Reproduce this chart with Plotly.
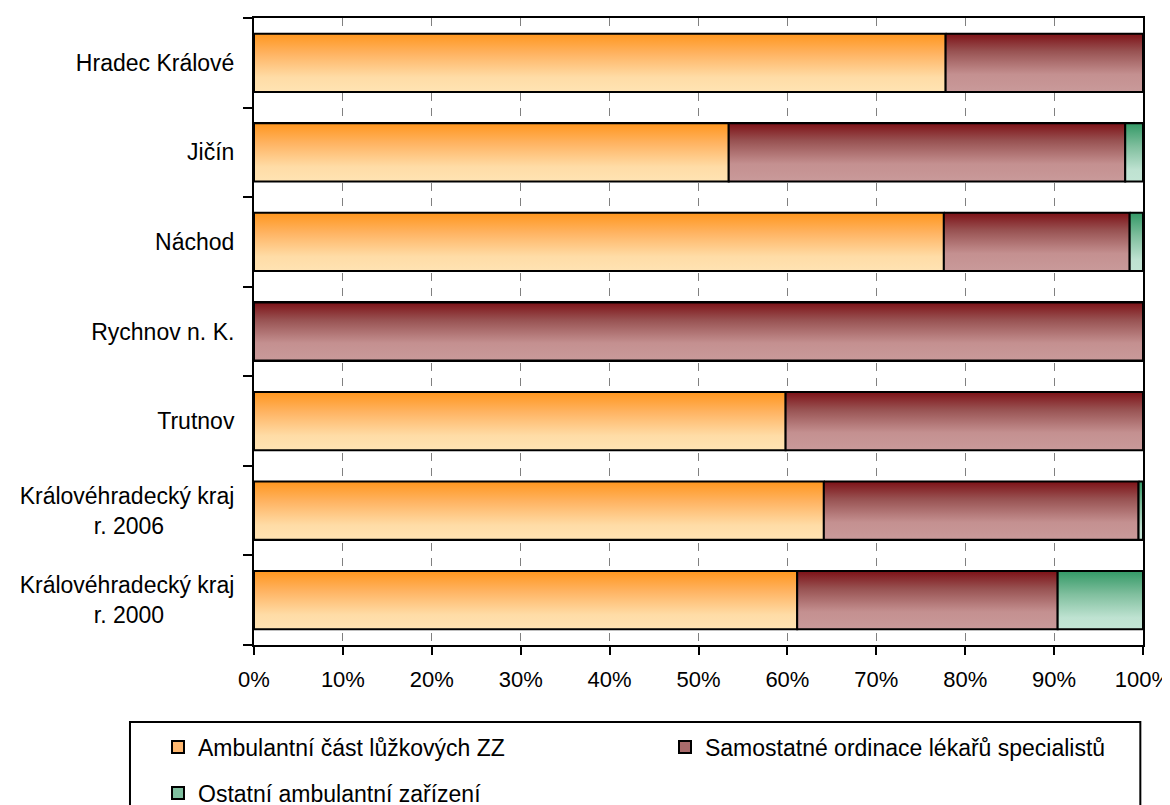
import plotly.graph_objects as go

categories = [
    "Hradec Králové",
    "Jičín",
    "Náchod",
    "Rychnov n. K.",
    "Trutnov",
    "Královéhradecký kraj<br>r. 2006" + "\u00a0" * 11,
    "Královéhradecký kraj<br>r. 2000" + "\u00a0" * 11,
]
ambulantni = [77.8, 53.4, 77.6, 0.0, 59.8, 64.1, 61.1]
samostatne = [22.2, 44.6, 20.9, 100.0, 40.2, 35.4, 29.3]
ostatni = [0.0, 2.0, 1.5, 0.0, 0.0, 0.5, 9.6]

series = [
    ("Ambulantní část lůžkových ZZ", ambulantni, "#FFB870",
     [[0, "#FF961E"], [0.35, "#FFB463"], [0.75, "#FFDCA6"], [1, "#FFE3B3"]]),
    ("Samostatné ordinace lékařů specialistů", samostatne, "#A86A6A",
     [[0, "#7D1116"], [0.3, "#985252"], [0.7, "#C49090"], [1, "#C99A9A"]]),
    ("Ostatní ambulantní zařízení", ostatni, "#7FBF9F",
     [[0, "#339966"], [0.4, "#80BF9E"], [0.8, "#BEE2D1"], [1, "#C3E5D5"]]),
]

FONT = "Liberation Sans Narrow, Arial Narrow, Liberation Sans, sans-serif"
FS = 23
BARW = 0.65
ypos = list(range(len(categories)))

fig = go.Figure()

# real stacked bars (data + legend)
for k, (name, vals, col, cs) in enumerate(series):
    fig.add_trace(go.Bar(
        y=ypos, x=vals, orientation="h", name=name, width=BARW,
        marker=dict(color=col, line=dict(color="black", width=2)),
        legend="legend" if k < 2 else "legend2",
        hoverinfo="x+name",
    ))

# gradient overlay for each segment, computed from the same data
left = [0.0] * len(categories)
for name, vals, col, cs in series:
    for i, v in enumerate(vals):
        c = left[i]
        if v > 0:
            y0, y1 = i - BARW / 2, i + BARW / 2
            fig.add_trace(go.Scatter(
                x=[c, c + v, c + v, c, c], y=[y0, y0, y1, y1, y0],
                mode="lines", fill="toself",
                line=dict(color="black", width=2),
                fillgradient=dict(type="vertical", colorscale=cs, start=y0, stop=y1),
                showlegend=False, hoverinfo="skip",
            ))
        left[i] = c + v

fig.update_layout(
    width=1170, height=805,
    margin=dict(l=246, r=35, t=10, b=168, autoexpand=False),
    paper_bgcolor="white", plot_bgcolor="white",
    barmode="stack",
    font=dict(family=FONT, size=FS, color="black"),
    showlegend=True,
    legend=dict(
        orientation="h", x=-0.108, xanchor="left", y=-0.1627, yanchor="middle",
        entrywidth=462, entrywidthmode="pixels",
        font=dict(family=FONT, size=FS, color="black"),
        bgcolor="rgba(0,0,0,0)", traceorder="normal",
    ),
    legend2=dict(
        orientation="h", x=-0.108, xanchor="left", y=-0.236, yanchor="middle",
        font=dict(family=FONT, size=FS, color="black"),
        bgcolor="rgba(0,0,0,0)",
    ),
    shapes=[dict(
        type="rect", xref="paper", yref="paper",
        x0=-0.1395, x1=0.997, y0=-0.1228, y1=-0.31,
        line=dict(color="black", width=2), fillcolor="rgba(0,0,0,0)", layer="below",
    )],
)

fig.update_xaxes(
    range=[0, 100], tickmode="linear", tick0=0, dtick=10, ticksuffix="%",
    ticks="outside", ticklen=8, tickwidth=2, tickcolor="black",
    showline=True, linewidth=2, linecolor="black", mirror=True,
    showgrid=True, gridcolor="#808080", gridwidth=1, griddash="8px,7px",
    zeroline=False, ticklabelstandoff=6, automargin=False,
    tickfont=dict(family=FONT, size=22, color="black"),
)
fig.update_yaxes(
    range=[len(categories) - 0.5, -0.5],
    tickmode="array", tickvals=ypos, ticktext=categories,
    ticks="outside", ticklen=13, tickcolor="rgba(0,0,0,0)",
    minor=dict(tickmode="array", tickvals=[i - 0.5 for i in range(len(categories) + 1)],
               ticks="outside", ticklen=9, tickwidth=1.5, tickcolor="black", showgrid=False),
    showline=True, linewidth=2, linecolor="black", mirror=True,
    showgrid=False, zeroline=False, automargin=False,
    tickfont=dict(family=FONT, size=FS, color="black"),
)

fig.write_html("out.html")
